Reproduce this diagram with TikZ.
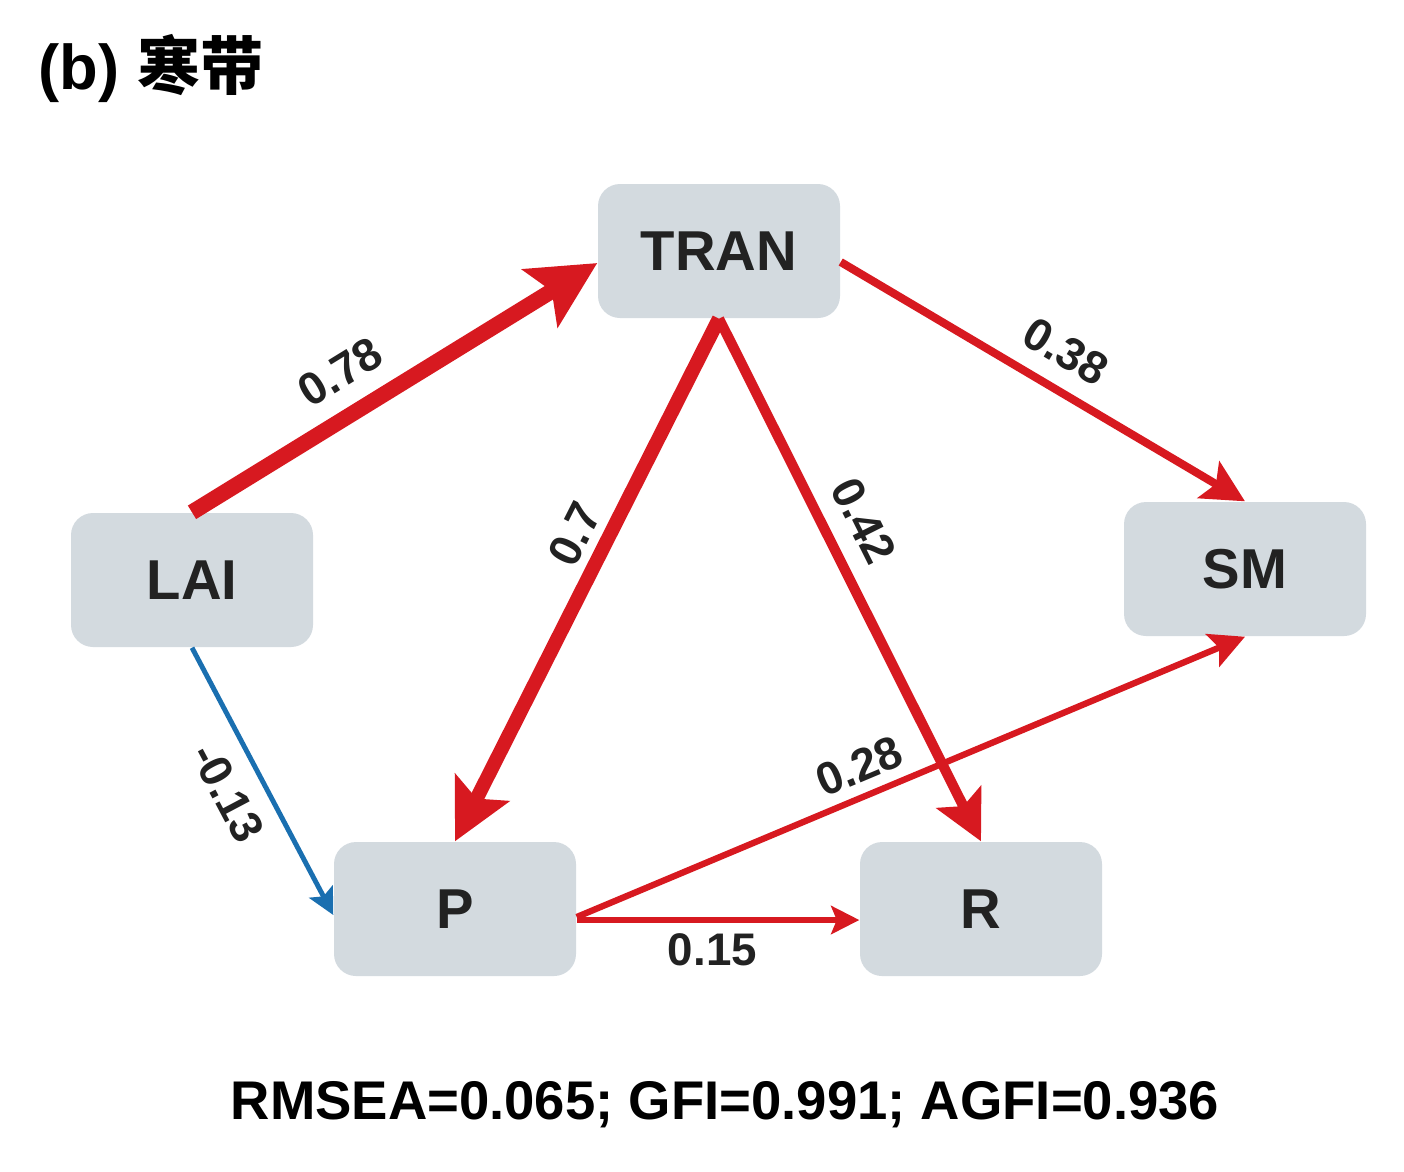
\documentclass[tikz,border=0pt]{standalone}
\usepackage{fontspec}
\setmainfont{Liberation Sans}
\newfontfamily\cjkfont{Noto Sans CJK SC}
\usetikzlibrary{arrows.meta}

\definecolor{boxgray}{HTML}{D3DADF}
\definecolor{pathred}{HTML}{D71920}
\definecolor{pathblue}{HTML}{1A6FB0}
\definecolor{txtdark}{HTML}{222222}

\begin{document}
\begin{tikzpicture}[
    var/.style={fill=boxgray, rounded corners=2.2mm, minimum width=2.42cm, minimum height=1.34cm,
        font=\fontsize{16}{18}\selectfont\bfseries, text=txtdark},
    coef/.style={font=\fontsize{13}{15}\selectfont\bfseries, text=txtdark, sloped, inner sep=5pt},
    redpath/.style={draw=pathred, line width=#1},
    bluepath/.style={draw=pathblue, line width=#1},
    head/.style={-{Stealth[length=#1, width=#1, inset=0.2*#1]}}
]
    \useasboundingbox (0,0) rectangle (14.04,-11.71);

    % title
    \node[anchor=west, inner sep=0pt, font=\fontsize{18}{20}\selectfont\bfseries] (title) at (0.38,-0.68) {(b) {\cjkfont 寒带}};

    % variables
    \node[var] (TRAN) at (7.19,-2.51) {TRAN};
    \node[var] (LAI) at (1.92,-5.80) {LAI};
    \node[var] (SM) at (12.45,-5.69) {SM};
    \node[var] (P) at (4.55,-9.09) {P};
    \node[var] (R) at (9.81,-9.09) {R};

    % paths
    \draw[redpath=4.5pt, head=19pt] (LAI.north) -- ([yshift=-1.2mm]TRAN.west)
        node[coef, above, pos=0.42] (c078) {0.78};
    \draw[redpath=2.3pt, head=12pt] ([yshift=-1.1mm]TRAN.east) -- (SM.north)
        node[coef, above, pos=0.51] (c038) {0.38};
    \draw[redpath=4pt, head=17pt] (TRAN.south) -- (P.north)
        node[coef, above, pos=0.44, inner sep=2.5pt] (c07) {0.7};
    \draw[redpath=2.9pt, head=14pt] (TRAN.south) -- (R.north)
        node[coef, above, pos=0.42] (c042) {0.42};
    \draw[redpath=1.8pt, head=10pt] ([yshift=-0.8mm]P.east) -- (SM.south)
        node[coef, above, pos=0.44, inner sep=3pt] (c028) {0.28};
    \draw[redpath=1.8pt, head=8pt] ([yshift=-1.1mm]P.east) -- ([yshift=-1.1mm]R.west)
        node[coef, below, pos=0.48, inner sep=3pt] (c015) {0.15};
    \draw[bluepath=1.4pt, head=7.5pt] (LAI.south) -- ([yshift=-0.6mm]P.west)
        node[coef, below, pos=0.48] (c013) {-0.13};

    % fit indices
    \node[font=\fontsize{15.5}{17}\selectfont\bfseries] (fit) at (7.25,-11.05) {RMSEA=0.065; GFI=0.991; AGFI=0.936};
\end{tikzpicture}
\end{document}
